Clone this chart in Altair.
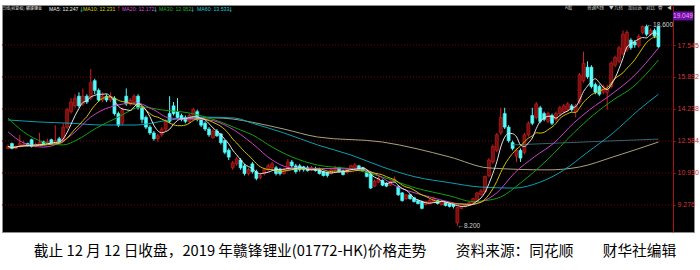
import altair as alt
import pandas as pd

# ---------------- data ----------------
opens = [12.20, 12.45, 12.20, 12.30, 12.35, 12.45, 12.65, 12.30, 12.40, 12.55,
         12.45, 12.65, 12.50, 12.70, 12.60, 13.30, 14.10, 14.40, 14.90, 14.50,
         14.90, 14.80, 15.70, 15.20, 14.70, 14.90, 14.70, 14.80, 14.00, 13.50,
         14.90, 14.50, 14.60, 14.90, 14.30, 13.80, 13.30, 13.00, 12.70, 12.90,
         13.20, 14.00, 14.40, 14.10, 13.90, 13.80, 13.60, 13.80, 14.10, 13.70,
         13.50, 13.20, 12.75, 13.10, 12.95, 12.60, 12.10, 11.20, 11.40, 11.60,
         11.30, 10.90, 11.40, 11.00, 10.70, 10.90, 11.10, 11.20, 11.20, 11.10,
         10.90, 11.10, 11.50, 11.30, 11.30, 11.25, 11.20, 11.10, 11.15, 11.10,
         11.00, 10.95, 10.90, 11.10, 11.20, 11.05, 10.95, 11.15, 11.20, 11.30,
         11.20, 11.00, 10.95, 10.25, 10.45, 10.55, 10.40, 10.30, 10.50, 10.20,
         9.90, 9.60, 9.80, 9.65, 9.50, 9.45, 9.30, 9.35, 9.45, 9.50,
         9.30, 9.40, 9.35, 9.30, 8.35, 9.10, 9.20, 9.30, 9.40, 9.50,
         9.80, 9.95, 10.80, 11.50, 12.10, 13.00, 14.00, 13.30, 12.50, 11.80,
         12.10, 12.00, 12.90, 13.90, 13.80, 14.30, 14.00, 13.60, 13.90, 13.70,
         14.00, 14.10, 14.20, 14.40, 14.10, 14.60, 15.70, 16.40, 16.40, 15.50,
         15.40, 15.10, 15.10, 15.40, 16.50, 16.70, 17.10, 17.30, 17.80, 17.70,
         17.50, 18.20, 18.50, 18.10, 18.30, 18.50]
highs = [12.40, 12.50, 12.35, 12.90, 12.60, 12.50, 12.70, 12.50, 13.00, 12.60,
         12.70, 12.70, 13.40, 12.80, 13.50, 14.30, 14.80, 15.00, 15.10, 15.30,
         15.00, 16.30, 15.80, 15.30, 15.10, 15.00, 15.10, 14.90, 14.10, 14.30,
         15.30, 14.80, 15.00, 15.00, 14.40, 13.90, 13.40, 13.10, 12.95, 13.30,
         13.70, 14.90, 14.60, 14.80, 14.00, 13.90, 14.00, 14.30, 14.20, 13.80,
         13.60, 13.30, 13.20, 13.20, 13.00, 12.65, 12.20, 11.55, 11.75, 11.70,
         11.40, 11.20, 11.50, 11.10, 10.90, 11.20, 11.40, 11.50, 11.30, 11.20,
         11.20, 11.65, 11.60, 11.40, 11.40, 11.30, 11.30, 11.30, 11.25, 11.20,
         11.05, 11.00, 11.15, 11.30, 11.25, 11.10, 11.20, 11.35, 11.45, 11.35,
         11.25, 11.05, 11.00, 10.60, 10.75, 10.60, 10.45, 10.55, 10.75, 10.30,
         9.95, 9.85, 9.85, 9.70, 9.55, 9.50, 9.50, 9.60, 9.70, 9.55,
         9.50, 9.45, 9.40, 9.35, 9.20, 9.25, 9.35, 9.45, 9.65, 9.95,
         10.10, 10.80, 11.70, 12.40, 13.00, 14.30, 14.30, 13.40, 12.60, 12.20,
         12.20, 13.00, 13.60, 14.30, 14.60, 14.40, 14.10, 14.10, 14.00, 14.10,
         14.40, 14.50, 14.60, 14.50, 14.50, 16.10, 17.20, 16.70, 16.50, 15.60,
         15.50, 15.50, 15.50, 16.70, 17.00, 17.50, 18.30, 18.30, 17.90, 17.80,
         18.10, 18.55, 18.60, 18.40, 18.40, 18.55]
lows = [12.15, 12.15, 12.15, 12.25, 12.30, 12.30, 12.25, 12.25, 12.35, 12.40,
        12.40, 12.40, 12.45, 12.50, 12.55, 13.20, 14.00, 14.30, 14.30, 14.40,
        14.50, 14.70, 15.00, 14.60, 14.60, 14.60, 14.60, 13.90, 13.30, 13.40,
        14.40, 14.40, 14.50, 14.20, 13.50, 13.20, 12.90, 12.60, 12.55, 12.80,
        13.10, 13.50, 13.90, 13.70, 13.60, 13.50, 13.50, 13.70, 13.60, 13.30,
        13.10, 12.80, 12.70, 12.80, 12.40, 11.90, 11.60, 11.10, 11.30, 11.10,
        10.80, 10.80, 10.90, 10.55, 10.60, 10.80, 11.00, 11.10, 10.80, 10.80,
        10.85, 11.00, 11.20, 10.90, 11.00, 11.00, 11.00, 11.05, 11.00, 10.85,
        10.75, 10.70, 10.85, 11.05, 10.95, 10.80, 10.90, 11.10, 11.15, 11.05,
        11.00, 10.70, 10.10, 10.20, 10.40, 10.25, 10.20, 10.25, 10.45, 9.75,
        9.45, 9.55, 9.55, 9.40, 9.30, 9.05, 9.25, 9.30, 9.40, 9.30,
        9.25, 9.20, 9.15, 9.10, 8.20, 9.05, 9.15, 9.25, 9.35, 9.45,
        9.75, 9.90, 10.70, 11.40, 12.00, 12.90, 13.20, 12.50, 12.10, 11.50,
        11.50, 11.90, 12.80, 13.40, 13.70, 13.50, 13.60, 13.50, 13.40, 13.60,
        13.90, 14.00, 14.10, 14.10, 13.80, 14.50, 15.60, 15.80, 15.30, 15.00,
        14.90, 15.00, 14.20, 15.30, 16.40, 16.60, 17.00, 17.20, 17.30, 17.40,
        17.40, 18.10, 18.00, 18.00, 17.90, 17.40]
closes = [12.30, 12.20, 12.30, 12.45, 12.40, 12.35, 12.30, 12.40, 12.50, 12.45,
          12.55, 12.45, 12.60, 12.55, 13.30, 14.20, 14.60, 14.80, 14.40, 14.90,
          14.60, 15.60, 15.20, 14.70, 14.90, 14.70, 14.90, 14.00, 13.40, 14.20,
          14.50, 14.70, 14.90, 14.30, 13.70, 13.30, 13.00, 12.70, 12.85, 13.20,
          13.60, 13.60, 14.00, 13.80, 13.70, 13.60, 13.90, 14.20, 13.70, 13.40,
          13.20, 12.90, 13.10, 12.85, 12.50, 12.00, 11.75, 11.45, 11.65, 11.20,
          10.90, 11.10, 11.00, 10.65, 10.80, 11.10, 11.30, 11.40, 10.90, 10.90,
          11.10, 11.50, 11.30, 11.00, 11.10, 11.10, 11.05, 11.20, 11.05, 10.90,
          10.80, 10.80, 11.10, 11.20, 11.00, 10.85, 11.15, 11.30, 11.35, 11.10,
          11.05, 10.75, 10.15, 10.50, 10.65, 10.30, 10.25, 10.50, 10.60, 9.80,
          9.50, 9.80, 9.60, 9.45, 9.35, 9.10, 9.45, 9.50, 9.60, 9.35,
          9.45, 9.25, 9.20, 9.20, 9.15, 9.20, 9.30, 9.40, 9.60, 9.90,
          10.00, 10.75, 11.60, 12.30, 12.90, 13.80, 13.30, 12.60, 12.20, 12.10,
          11.70, 12.90, 13.50, 13.50, 14.50, 13.60, 13.70, 14.00, 13.50, 14.00,
          14.30, 14.40, 14.50, 14.20, 14.40, 16.00, 16.60, 15.90, 15.40, 15.10,
          15.00, 15.40, 15.30, 16.60, 16.90, 17.40, 18.10, 18.20, 17.40, 17.55,
          18.00, 18.50, 18.10, 18.30, 18.00, 17.45]

# longer moving averages at sample bars
ma20_idx = [0, 4, 9, 13.5, 17, 21, 26, 32.5, 37, 41, 46, 51, 56, 62, 67, 72, 87, 92,
            99, 107, 112, 117, 120, 124, 128.5, 133.5, 138.5, 143.5, 147.5, 153.5, 158.5, 165]
ma20_val = [13.06, 12.48, 12.27, 12.53, 13.05, 13.82, 14.34, 14.55, 14.19, 13.77, 13.72,
            13.67, 13.31, 12.45, 11.60, 11.19, 11.14, 10.98, 10.20, 9.69, 9.43, 9.28,
            9.43, 9.90, 10.93, 11.76, 12.48, 13.51, 14.19, 15.06, 15.89, 17.39]
ma30_idx = [0, 4, 9, 14, 17.5, 22.5, 27.5, 34, 39, 46, 52.5, 59, 62, 67, 72, 78.5, 87,
            95, 103.5, 112, 118, 121, 125, 130, 136.75, 143.5, 148.5, 153.5, 158.5, 165]
ma30_val = [13.77, 13.05, 12.53, 12.38, 12.64, 13.26, 13.77, 14.34, 14.19, 14.03, 13.67,
            13.15, 12.90, 12.27, 11.76, 11.34, 11.14, 10.72, 10.15, 9.75, 9.45, 9.50,
            9.69, 10.41, 11.60, 13.00, 13.93, 14.70, 15.37, 16.77]
ma60_idx = [0, 7.5, 16, 24, 32.5, 41, 49, 57.5, 62, 70, 78.5, 87, 95, 103.5, 112, 120,
            128.5, 135, 141, 146.75, 153.5, 160, 165]
ma60_val = [13.67, 13.57, 13.50, 13.41, 13.41, 13.67, 13.82, 13.77, 13.50, 13.00, 12.38,
            11.86, 11.24, 10.72, 10.43, 10.20, 10.15, 10.46, 11.08, 11.96, 13.00, 14.19, 15.00]
ma120_idx = [46, 52, 57, 62, 70, 78.5, 95, 112, 122, 137, 145, 153.5, 165]
ma120_val = [13.75, 13.78, 13.72, 13.55, 13.20, 12.79, 12.53, 11.76, 11.19, 11.09, 11.24,
             11.76, 12.53]
ma250_idx = [128, 140, 152, 165]
ma250_val = [12.38, 12.48, 12.58, 12.68]

axis_ticks = [9.276, 10.930, 12.584, 14.238, 15.892, 17.545]
cursor_price = 19.049
header_items = ["日线(前复权)", "赣锋锂业", "MA5: 12.247", "MA10: 12.231", "MA20: 12.172",
                "MA30: 12.952", "MA60: 13.533"]
header_arrows = ["↓", "↑", "↓", "↓", "↓"]
buttons = ["A股", "普通K线", "▼", "九转", "加自选", "对比", "叠", "◀"]
caption = "截止 12 月 12 日收盘，2019 年赣锋锂业(01772-HK)价格走势　　资料来源：同花顺　　财华社编辑"

# ---------------- chart ----------------
CJK = "Noto Sans CJK SC"
n = len(closes)
bars = pd.DataFrame({"i": list(range(n)), "open": opens, "high": highs,
                     "low": lows, "close": closes})
bars["dir"] = ["up" if c >= o else "down" for o, c in zip(opens, closes)]

xs = alt.Scale(domain=[-0.25, 172.75], nice=False, zero=False)
ys = alt.Scale(domain=[7.879, 19.613], nice=False, zero=False)
X = alt.X("i:Q", scale=xs, axis=None)
YAX = alt.Axis(
    orient="right", offset=-21, values=axis_ticks, format=".3f", title=None,
    grid=False, domainColor="#b01010", tickColor="#b01010", tickSize=2,
    labelColor="#d03434", labelFontSize=7, labelFont="Liberation Sans",
    labelPadding=2)


def Y(field):
    return alt.Y(field, scale=ys, axis=YAX, title=None)


dir_color = alt.Scale(domain=["up", "down"], range=["#d42020", "#54fcfc"])
dir_fill = alt.Scale(domain=["up", "down"], range=["#7a0e0e", "#54fcfc"])

grid = alt.Chart(pd.DataFrame({"v": axis_ticks})).mark_rule(
    color="#7a0000", strokeDash=[1, 2], strokeWidth=1
).encode(y=Y("v:Q"), x=alt.value(0), x2=alt.value(671))

wicks = alt.Chart(bars).mark_rule(strokeWidth=1).encode(
    x=X, y=Y("low:Q"), y2="high:Q",
    color=alt.Color("dir:N", scale=dir_color, legend=None),
)
bodies = alt.Chart(bars).mark_bar(width=3, strokeWidth=0.6).encode(
    x=X, y=Y("open:Q"), y2="close:Q",
    fill=alt.Fill("dir:N", scale=dir_fill, legend=None),
    stroke=alt.Stroke("dir:N", scale=dir_color, legend=None),
)

ma5 = alt.Chart(bars).transform_window(
    v="mean(close)", frame=[-4, 0], sort=[alt.SortField("i")]
).mark_line(color="#e6e6e6", strokeWidth=1, interpolate="monotone").encode(
    x=X, y=Y("v:Q"))
ma10 = alt.Chart(bars).transform_window(
    v="mean(close)", frame=[-9, 0], sort=[alt.SortField("i")]
).mark_line(color="#cfc400", strokeWidth=1, interpolate="monotone").encode(
    x=X, y=Y("v:Q"))


def ma_line(idx, vals, color):
    return alt.Chart(pd.DataFrame({"i": idx, "v": vals})).mark_line(
        color=color, strokeWidth=1, interpolate="monotone"
    ).encode(x=X, y=Y("v:Q"))


ma_layers = [
    ma_line(ma250_idx, ma250_val, "#2e6674"),
    ma_line(ma120_idx, ma120_val, "#aaa27c"),
    ma_line(ma60_idx, ma60_val, "#0a9fb2"),
    ma_line(ma30_idx, ma30_val, "#12a012"),
    ma_line(ma20_idx, ma20_val, "#c844c8"),
]

hi_i = highs.index(max(highs))
lo_i = lows.index(min(lows))
extremes = pd.DataFrame({"i": [hi_i, lo_i], "v": [highs[hi_i], lows[lo_i]],
                         "t": ["←%.3f" % highs[hi_i], "←%.3f" % lows[lo_i]]})
ext_text = alt.Chart(extremes).mark_text(
    align="left", baseline="middle", dx=0, fontSize=6.5, color="#d0d0d0",
    font="Liberation Sans"
).encode(x=X, y=Y("v:Q"), text="t:N")

cur = pd.DataFrame({"v": [cursor_price], "t": ["%.3f" % cursor_price]})
cur_box = alt.Chart(cur).mark_point(
    shape="M-1,-0.45L1,-0.45L1,0.45L-1,0.45Z", size=400, filled=True,
    color="#6c12a0", opacity=1
).encode(x=alt.value(681), y=Y("v:Q"))
cur_txt = alt.Chart(cur).mark_text(
    fontSize=6.5, color="#ff9cff", font="Liberation Sans", baseline="middle"
).encode(x=alt.value(681), y=Y("v:Q"), text="t:N")


def label(text, x, y, color, size=5, align="left", font=CJK):
    return alt.Chart(pd.DataFrame({"t": [text]})).mark_text(
        align=align, baseline="middle", fontSize=size, color=color, font=font
    ).encode(x=alt.value(x), y=alt.value(y), text="t:N")


hdr_x = [0, 24, 47, 81, 120, 157, 195]
hdr_c = ["#d8d8d8", "#ffffff", "#e8e8e8", "#d8d000", "#d050d0", "#20b020", "#20c8d8"]
hdr_f = [CJK, CJK] + ["Liberation Sans"] * 5
hdr_s = [4, 4, 5.2, 5.2, 5.2, 5.2, 5.2]
header = [label(t, x, 4, c, size=s, font=f)
          for t, x, c, f, s in zip(header_items, hdr_x, hdr_c, hdr_f, hdr_s)]
arr_x = [77, 114, 151, 188, 226]
arr_c = ["#54fcfc", "#ff3030", "#54fcfc", "#54fcfc", "#54fcfc"]
arrows = [label(t, x, 4, c, size=5.2) for t, x, c in zip(header_arrows, arr_x, arr_c)]
btn_x = [563, 585, 607, 612, 626, 644, 656, 665]
btns = [label(t, x, 3, "#c8c8c8", size=4.6) for t, x in zip(buttons, btn_x)]

cap = label(caption, 353, 247, "#000000", size=14.7, align="center")

chart = alt.layer(
    grid, wicks, bodies, *ma_layers, ma10, ma5, ext_text, cur_box, cur_txt,
    *header, *arrows, *btns, cap
).properties(
    width=692, height=227, autosize="none", background="white",
    padding={"left": 2, "top": 5, "right": 6, "bottom": 38},
).configure_view(fill="black", stroke="#8c8c8c", strokeWidth=1)

chart.save("out.html", embed_options={"renderer": "svg", "actions": False})
